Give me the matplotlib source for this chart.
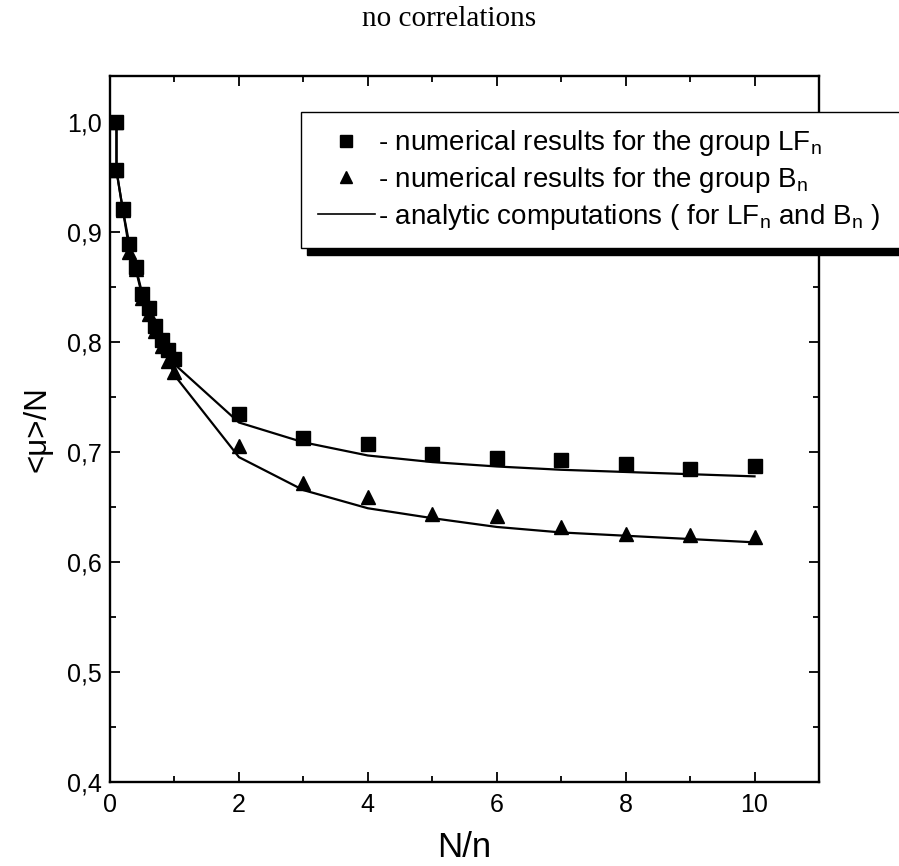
import numpy as np
import matplotlib
matplotlib.use("Agg")
import matplotlib.pyplot as plt
from matplotlib.ticker import MultipleLocator, FuncFormatter

# N/n values
x = [0.1, 0.1, 0.2, 0.3, 0.4, 0.5, 0.6, 0.7, 0.8, 0.9, 1.0,
     2, 3, 4, 5, 6, 7, 8, 9, 10]

# numerical results, group LF_n (squares)
lf_num = [1.0, 0.957, 0.921, 0.889, 0.868, 0.844, 0.831, 0.815, 0.802, 0.793, 0.785,
          0.735, 0.713, 0.707, 0.698, 0.695, 0.693, 0.689, 0.685, 0.687]
# numerical results, group B_n (triangles)
b_num = [1.0, 0.957, 0.920, 0.882, 0.867, 0.840, 0.826, 0.810, 0.797, 0.783, 0.773,
         0.706, 0.672, 0.659, 0.644, 0.642, 0.632, 0.626, 0.625, 0.623]

# analytic curves
lf_ana = [1.0, 0.956, 0.920, 0.889, 0.868, 0.844, 0.830, 0.815, 0.801, 0.790, 0.780,
          0.727, 0.709, 0.697, 0.691, 0.687, 0.684, 0.682, 0.680, 0.678]
b_ana = [1.0, 0.956, 0.920, 0.884, 0.866, 0.842, 0.827, 0.812, 0.798, 0.785, 0.770,
         0.6955, 0.6655, 0.649, 0.640, 0.632, 0.627, 0.624, 0.621, 0.618]

labels = ['- numerical results for the group LF$_n$',
          '- numerical results for the group B$_n$',
          '- analytic computations ( for LF$_n$ and B$_n$ )']

plt.rcParams['font.family'] = ['Liberation Sans', 'DejaVu Sans']
plt.rcParams['mathtext.default'] = 'regular'

fig = plt.figure(figsize=(8.99, 8.66), dpi=100)
ax = fig.add_axes([0.1224, 0.097, 0.7886, 0.815])

ax.plot(x, lf_ana, color='k', lw=1.6)
ax.plot(x, b_ana, color='k', lw=1.6)
ax.plot(x, lf_num, 's', color='k', ms=9.5, ls='none')
ax.plot(x, b_num, '^', color='k', ms=10.5, ls='none')

ax.set_xlim(0, 11)
ax.set_ylim(0.4, 1.042)
ax.xaxis.set_major_locator(MultipleLocator(2))
ax.xaxis.set_minor_locator(MultipleLocator(1))
ax.yaxis.set_major_locator(MultipleLocator(0.1))
ax.yaxis.set_minor_locator(MultipleLocator(0.05))
ax.yaxis.set_major_formatter(FuncFormatter(lambda v, p: ('%.1f' % v).replace('.', ',')))
ax.tick_params(which='both', direction='in', top=True, right=True, width=1.3)
ax.tick_params(which='major', length=7, labelsize=18)
ax.tick_params(axis='x', which='major', pad=8)
ax.tick_params(axis='y', which='major', pad=6)
ax.tick_params(which='minor', length=4)
for s in ax.spines.values():
    s.set_linewidth(1.7)

ax.set_xlabel('N/n', fontsize=25, labelpad=10)
ax.set_ylabel('<μ>/N', fontsize=22.5, labelpad=10)

fig.text(0.5, 0.978, 'no correlations', ha='center', va='center',
         family='Liberation Serif', fontsize=21)

h1, = ax.plot([], [], 's', color='k', ms=8)
h2, = ax.plot([], [], '^', color='k', ms=9)
h3, = ax.plot([], [], color='k', lw=1.2)
leg = fig.legend([h1, h2, h3], labels,
                 loc='upper left', bbox_to_anchor=(0.335, 0.871, 0.70, 0.0),
                 mode='expand', fontsize=20, handlelength=2.05, handletextpad=0.1,
                 borderpad=0.6, labelspacing=0.24, fancybox=False, framealpha=1,
                 edgecolor='k',
                 shadow={'color': 'k', 'alpha': 1, 'ox': 4, 'oy': -5},
                 borderaxespad=0)
leg.get_frame().set_linewidth(1.0)

fig.savefig('out.png', dpi=100)
